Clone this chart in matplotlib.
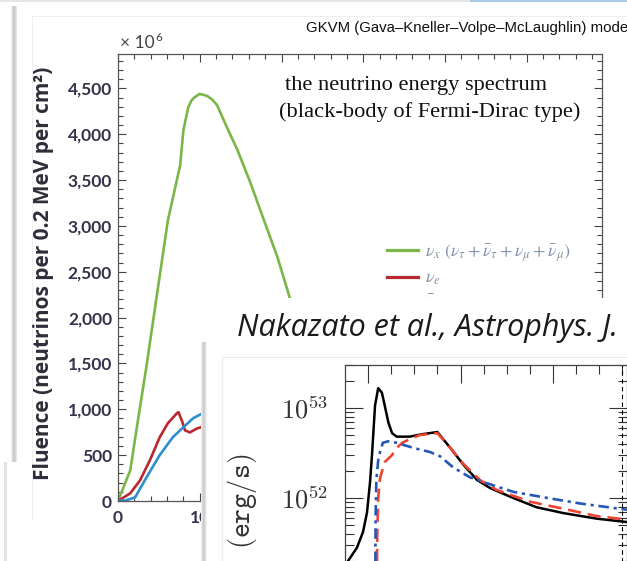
import matplotlib
matplotlib.use("Agg")
import matplotlib.pyplot as plt
import numpy as np
from matplotlib.patches import Rectangle
from matplotlib.lines import Line2D
from matplotlib.ticker import MultipleLocator, LogLocator, NullFormatter, FuncFormatter

W, H = 627, 561

# fluence spectra (GKVM model), energy in MeV, fluence in units of 1e6
e_nux = [0, 1.5, 2.3, 3.5, 4.5, 6.1, 7.2, 7.6, 8.0, 8.6, 9.0, 9.4, 10.0, 10.9, 11.5,
         12.1, 13.3, 14.6, 16.2, 17.7, 19.5, 21.1, 22.5]
f_nux = [0, 335, 800, 1480, 2090, 3060, 3500, 3660, 4045, 4296, 4370, 4405, 4440, 4418,
         4380, 4320, 4080, 3830, 3470, 3100, 2660, 2190, 1800]
e_nue = [0, 1.5, 2.7, 3.9, 5.1, 6.1, 7.2, 7.4, 7.8, 8.2, 8.8, 9.7, 10.6, 12.0]
f_nue = [0, 84, 226, 444, 695, 848, 957, 968, 880, 770, 748, 793, 815, 830]
e_anue = [0, 0.9, 2.1, 3.5, 5.1, 6.7, 8.0, 9.2, 10.6, 12.0]
f_anue = [0, 5, 40, 260, 500, 695, 805, 903, 968, 1020]
fluence_labels = [r"$\nu_x\ (\nu_\tau + \bar{\nu}_\tau + \nu_\mu + \bar{\nu}_\mu)$",
                  r"$\nu_e$", r"$\bar{\nu}_e$"]

# luminosity curves (Nakazato et al.), time in s, L in 1e52 erg/s
t_nue = [-0.025, -0.0216, -0.012, -0.0054, -0.0011, 0.0022, 0.0043, 0.0076, 0.011,
         0.015, 0.018, 0.022, 0.026, 0.031, 0.045, 0.058, 0.075, 0.089, 0.103,
         0.118, 0.132, 0.157, 0.182, 0.211, 0.247, 0.280]
L_nue = [0.14, 0.20, 0.28, 0.42, 0.69, 1.51, 3.02, 10.7, 16.6, 14.8, 10.7, 6.9,
         5.25, 4.8, 4.8, 5.1, 5.4, 3.6, 2.35, 1.58, 1.29, 1.0, 0.79, 0.68, 0.59, 0.54]
t_anue = [0.0095, 0.0100, 0.011, 0.013, 0.018, 0.026, 0.031, 0.037, 0.043, 0.056,
          0.075, 0.089, 0.103, 0.121, 0.139, 0.175, 0.211, 0.247, 0.280]
L_anue = [0.1, 0.4, 1.0, 1.66, 2.5, 3.0, 3.6, 4.1, 4.4, 5.0, 5.25, 3.6, 2.4, 1.58,
          1.23, 0.91, 0.76, 0.63, 0.575]
t_nux = [0.0078, 0.0082, 0.009, 0.011, 0.013, 0.016, 0.022, 0.031, 0.049, 0.067,
         0.078, 0.092, 0.110, 0.124, 0.157, 0.194, 0.229, 0.280]
L_nux = [0.1, 0.63, 1.58, 2.63, 3.24, 4.1, 4.27, 4.1, 3.6, 3.24, 2.9, 2.19, 1.70,
         1.51, 1.17, 1.0, 0.87, 0.74]
t_revive = 0.275


def fx(px):
    return px / W


def fy(py):
    return 1 - py / H


plt.rcParams["mathtext.fontset"] = "cm"
fig = plt.figure(figsize=(W / 100, H / 100), dpi=100)
fig.patch.set_facecolor("white")

# slide decorations
fig.add_artist(Rectangle((0, fy(2)), fx(470), 2 / H, transform=fig.transFigure,
                         facecolor="#e6e6e6", edgecolor="none", zorder=0))
fig.add_artist(Rectangle((fx(470), fy(1.5)), 1 - fx(470), 1.5 / H, transform=fig.transFigure,
                         facecolor="#a9cbe6", edgecolor="none", zorder=0))
for i, c in enumerate(["#eeeeee", "#dcdcdc", "#cdcdcd", "#c9c9c9", "#d6d6d6", "#e8e8e8"]):
    fig.add_artist(Rectangle((fx(11 + i), fy(462)), 1 / W, 456 / H, transform=fig.transFigure,
                             facecolor=c, edgecolor="none", zorder=0))
fig.add_artist(Rectangle((fx(4), 0), 3 / W, fy(462), transform=fig.transFigure,
                         facecolor="#e2e2e2", edgecolor="none", zorder=0))
fig.add_artist(Line2D([fx(32), fx(32)], [fy(16), fy(520)], transform=fig.transFigure,
                      color="#eeeeee", lw=0.8, zorder=0))
fig.add_artist(Line2D([fx(32), 1], [fy(16), fy(16)], transform=fig.transFigure,
                      color="#eeeeee", lw=0.8, zorder=0))

# fluence panel
ax = fig.add_axes([fx(118), fy(501), fx(602) - fx(118), fy(54) - fy(501)])
ax.set_zorder(0.5)
ax.plot(e_nux, f_nux, color="#7ab648", lw=1.9, label=fluence_labels[0])
ax.plot(e_nue, f_nue, color="#b8282e", lw=1.9, label=fluence_labels[1])
ax.plot(e_anue, f_anue, color="#2b8fd0", lw=1.9, label=fluence_labels[2])
ax.set_xlim(0, 59.2)
ax.set_ylim(0, 4875)
ax.xaxis.set_major_locator(MultipleLocator(10))
ax.xaxis.set_minor_locator(MultipleLocator(2))
ax.yaxis.set_major_locator(MultipleLocator(500))
ax.yaxis.set_minor_locator(MultipleLocator(100))
ax.yaxis.set_major_formatter(FuncFormatter(lambda v, p: f"{int(v):,}"))
ax.tick_params(which="both", direction="in", top=True, right=True, color="#444444", width=0.8)
ax.tick_params(which="major", length=5.8)
ax.tick_params(which="minor", length=3.4)
ax.tick_params(axis="y", pad=4.3)
ax.tick_params(axis="x", pad=6.5)
for lbl in ax.get_xticklabels() + ax.get_yticklabels():
    lbl.set_fontfamily("Lato")
    lbl.set_fontweight("bold")
    lbl.set_fontsize(12.5)
    lbl.set_color("#33334a")
for s in ax.spines.values():
    s.set_color("#555555")
    s.set_linewidth(0.9)

leg = ax.legend(loc="upper left", bbox_to_anchor=(fx(387), fy(242)), bbox_transform=fig.transFigure,
                frameon=False, fontsize=13, handlelength=1.72, handletextpad=0.4,
                borderpad=0, borderaxespad=0, labelspacing=0.28)
for t in leg.get_texts():
    t.set_math_fontfamily("stix")
    t.set_color("#8595ad")
for h in leg.get_lines():
    h.set_linewidth(2.3)

fig.text(fx(44), fy(273), "Fluence (neutrinos per 0.2 MeV per cm²)", rotation=90,
         ha="center", va="center", family="Open Sans", weight="bold", fontsize=15, color="#2e2e3a")
fig.text(fx(120), fy(48), "× 10", ha="left", va="baseline", family="Lato", fontsize=12.5,
         color="#444444")
fig.text(fx(155), fy(41), "6", ha="left", va="baseline", family="Lato", fontsize=8.5,
         color="#444444")
fig.text(fx(306), fy(32), "GKVM (Gava–Kneller–Volpe–McLaughlin) model", ha="left", va="baseline",
         family="Liberation Sans", fontsize=10.8, color="#111111")
fig.text(fx(285), fy(90), "the neutrino energy spectrum", ha="left", va="baseline",
         family="Liberation Serif", fontsize=16.1, color="#111111")
fig.text(fx(279), fy(117), "(black-body of Fermi-Dirac type)", ha="left", va="baseline",
         family="Liberation Serif", fontsize=16.1, color="#111111")

# overlay slide with the luminosity panel
fig.add_artist(Rectangle((fx(203), 0), 1 - fx(203), fy(298), transform=fig.transFigure,
                         facecolor="white", edgecolor="none", zorder=1))
for i, c in enumerate(["#ececec", "#dadada", "#cccccc", "#d2d2d2", "#e2e2e2", "#f2f2f2"]):
    fig.add_artist(Rectangle((fx(201 + i), 0), 1 / W, fy(342), transform=fig.transFigure,
                             facecolor=c, edgecolor="none", zorder=1.1))
fig.add_artist(Line2D([fx(222), fx(222)], [0, fy(357)], transform=fig.transFigure,
                      color="#ececec", lw=0.8, zorder=1.2))
fig.add_artist(Line2D([fx(222), 1], [fy(357), fy(357)], transform=fig.transFigure,
                      color="#ececec", lw=0.8, zorder=1.2))

lax = fig.add_axes([fx(345), fy(588), fx(626.5) - fx(345), fy(365) - fy(588)])
lax.set_zorder(2)
lax.plot(t_nue, np.array(L_nue) * 1e52, color="black", lw=1.8)
lax.plot(t_anue, np.array(L_anue) * 1e52, color="#ef4431", lw=1.9, dashes=(5, 2.6))
lax.plot(t_nux, np.array(L_nux) * 1e52, color="#2458b8", lw=1.9, dashes=(4, 1.8, 1.2, 1.8))
lax.axvline(t_revive, color="black", lw=0.8, dashes=(4, 3))
lax.set_yscale("log")
lax.set_xlim(-0.0249, 0.2795)
lax.set_ylim(1e51, 3.0e53)
lax.xaxis.set_major_locator(MultipleLocator(0.1))
lax.xaxis.set_minor_locator(MultipleLocator(0.025))
lax.yaxis.set_major_locator(LogLocator(base=10))
lax.yaxis.set_major_formatter(FuncFormatter(lambda v, p: r"$10^{%d}$" % round(np.log10(v))))
lax.yaxis.set_minor_locator(LogLocator(base=10, subs=np.arange(2, 10)))
lax.yaxis.set_minor_formatter(NullFormatter())
lax.tick_params(which="both", direction="in", top=True, right=True, width=0.8, color="#333333",
                labelbottom=False)
lax.tick_params(which="major", length=13)
lax.tick_params(which="minor", length=6.5)
lax.tick_params(axis="y", labelsize=19, pad=12, labelcolor="#333333")
for s in lax.spines.values():
    s.set_color("#444444")
    s.set_linewidth(0.9)

fig.text(fx(242), fy(454), r"$\mathtt{(erg/s)}$", rotation=90, ha="center", va="top",
         fontsize=20.5, color="#333333", zorder=3)
fig.text(fx(237), fy(336), "Nakazato et al., Astrophys. J.", ha="left", va="baseline",
         family="Open Sans", style="italic", fontsize=22, color="#1a1a1a", zorder=3)

fig.savefig("out.png", dpi=100)
